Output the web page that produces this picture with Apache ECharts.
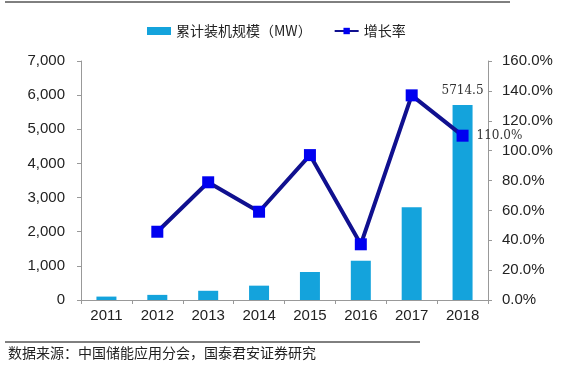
<!DOCTYPE html>
<html><head><meta charset="utf-8">
<script src="https://cdn.jsdelivr.net/npm/echarts@6/dist/echarts.min.js"></script>
<style>html,body{margin:0;padding:0;background:#fff}#c{width:564px;height:369px}</style>
</head><body><div id="c"></div>
<script>
var categories = ['2011','2012','2013','2014','2015','2016','2017','2018'];
var capacity = [100, 150, 270, 420, 820, 1150, 2720, 5714.5];
var growth = [null, 45.7, 78.8, 59.1, 97.0, 37.3, 137.0, 110.0];
var chart = echarts.init(document.getElementById('c'));
var font = '"Liberation Sans", Arial, sans-serif';
chart.setOption({
  animation: false,
  legend: {
    top: 19, left: 142, itemGap: 22, itemWidth: 24, itemHeight: 8,
    textStyle: {fontFamily: '"Noto Sans CJK SC", serif', fontSize: 14, color: '#222'},
    data: [{name: '累计装机规模（MW）', icon: 'rect'}, {name: '增长率'}]
  },
  grid: {left: 81, right: 76, top: 61, bottom: 69},
  xAxis: {
    type: 'category', data: categories,
    axisLine: {lineStyle: {color: '#999'}},
    axisTick: {show: true, length: 4, lineStyle: {color: '#999'}},
    axisLabel: {fontFamily: font, fontSize: 15, color: '#222', margin: 8}
  },
  yAxis: [{
    type: 'value', min: 0, max: 7000, interval: 1000,
    axisLine: {show: true, lineStyle: {color: '#999'}},
    axisTick: {show: true, length: 4, lineStyle: {color: '#999'}},
    splitLine: {show: false},
    axisLabel: {fontFamily: font, fontSize: 15, color: '#222', margin: 16,
      formatter: function(v){return v.toLocaleString('en-US');}}
  }, {
    type: 'value', min: 0, max: 160, interval: 20,
    axisLine: {show: true, lineStyle: {color: '#999'}},
    axisTick: {show: true, length: 4, lineStyle: {color: '#999'}},
    splitLine: {show: false},
    axisLabel: {fontFamily: font, fontSize: 15, color: '#222', margin: 14,
      formatter: function(v){return v.toFixed(1) + '%';}}
  }],
  series: [{
    name: '累计装机规模（MW）', type: 'bar', yAxisIndex: 0, data: capacity,
    barWidth: 20, itemStyle: {color: '#14A3DC'},
    label: {show: true, position: 'top', distance: 8, fontFamily: '"DejaVu Serif", serif', fontSize: 12, color: '#333',
      formatter: function(p){return p.dataIndex === 7 ? '5714.5' : '';}}
  }, {
    name: '增长率', type: 'line', yAxisIndex: 1, data: growth,
    symbol: 'rect', symbolSize: 12,
    lineStyle: {color: '#10108F', width: 4},
    itemStyle: {color: '#0000F0'},
    label: {show: true, position: 'right', distance: 8, fontFamily: '"DejaVu Serif", serif', fontSize: 12, color: '#333',
      formatter: function(p){return p.dataIndex === 7 ? '110.0%' : '';}}
  }],
  graphic: [
    {type: 'line', shape: {x1: 5, y1: 2, x2: 510, y2: 2}, style: {stroke: '#000', lineWidth: 1}},
    {type: 'line', shape: {x1: 5, y1: 342, x2: 420, y2: 342}, style: {stroke: '#000', lineWidth: 1}},
    {type: 'text', left: 8, top: 346, style: {text: '数据来源：中国储能应用分会，国泰君安证券研究', font: '14px "Noto Sans CJK SC", serif', fill: '#222'}}
  ]
});
</script></body></html>
